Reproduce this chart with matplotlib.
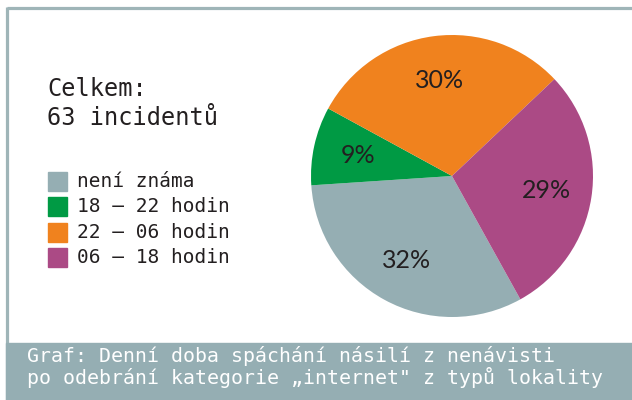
import matplotlib
matplotlib.use("Agg")
import matplotlib.pyplot as plt
from matplotlib.patches import Rectangle
from matplotlib.lines import Line2D

# data
categories = ["není známa", "18 – 22 hodin", "22 – 06 hodin", "06 – 18 hodin"]
shares = [32, 9, 30, 29]
colors = ["#95aeb3", "#009a44", "#f0821e", "#ab4a85"]
total_text = ["Celkem:", "63 incidentů"]
caption = [
    "Graf: Denní doba spáchání násilí z nenávisti",
    "po odebrání kategorie „internet\" z typů lokality",
]

W, H = 632, 400
MONO = "DejaVu Sans Mono"
INK = "#231f20"
FRAME = "#9fb5b8"


def fx(px):
    return px / W


def fy(py):
    return 1 - py / H


fig = plt.figure(figsize=(W / 100, H / 100), dpi=100)
fig.patch.set_facecolor("white")

# frame: top and left rules, caption band at the bottom
fig.add_artist(Line2D([fx(7), 1], [fy(8), fy(8)], color=FRAME, lw=2.3,
                      solid_capstyle="butt", transform=fig.transFigure))
fig.add_artist(Line2D([fx(7), fx(7)], [fy(6.5), 0], color=FRAME, lw=2.3,
                      solid_capstyle="butt", transform=fig.transFigure))
fig.add_artist(Rectangle((fx(6), 0), 1 - fx(6), fy(343), color="#95aeb3",
                         transform=fig.transFigure, zorder=2))

# pie
cx, cy, r = 452, 176, 141
ax = fig.add_axes([fx(cx - r), fy(cy + r), 2 * r / W, 2 * r / H])
wedges, _, autotexts = ax.pie(
    shares, colors=colors, startangle=-61, counterclock=False,
    autopct="%.0f%%", pctdistance=0.68,
    wedgeprops=dict(linewidth=0),
    textprops=dict(color=INK, fontsize=18, family="Lato"),
)
ax.set_xlim(-1, 1)
ax.set_ylim(-1, 1)
ax.set_aspect("auto")
ax.axis("off")

# total
fig.text(fx(47), fy(96), total_text[0], family=MONO, fontsize=17,
         color=INK, va="baseline")
fig.text(fx(47), fy(125), total_text[1], family=MONO, fontsize=17,
         color=INK, va="baseline")

# legend
for i, (lab, col) in enumerate(zip(categories, colors)):
    yc = 181.5 + i * 25.4
    fig.add_artist(Rectangle((fx(48), fy(yc + 9.5)), fx(19), 19 / H,
                             color=col, transform=fig.transFigure))
    fig.text(fx(77), fy(yc), lab, family=MONO, fontsize=14, color=INK,
             va="center")

# caption
for i, line in enumerate(caption):
    fig.text(fx(27), fy(356 + i * 21), line, family=MONO, fontsize=14.3,
             color="white", va="center", zorder=3)

fig.savefig("out.png", dpi=100)
